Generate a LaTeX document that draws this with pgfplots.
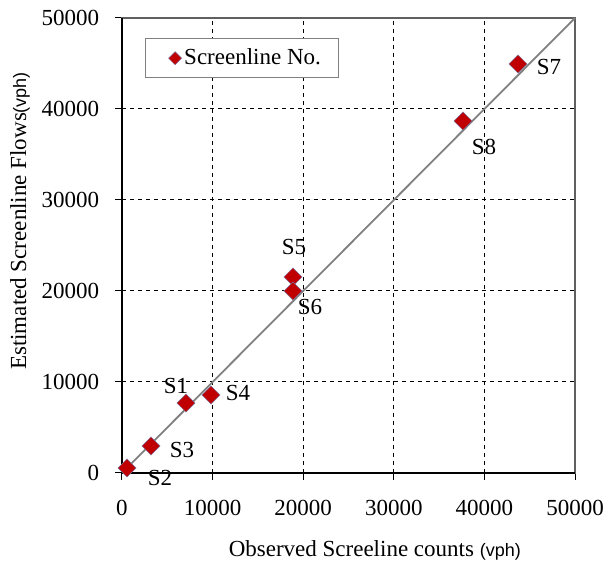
\documentclass[border=0pt]{standalone}
\usepackage{fontspec}
\setmainfont{Liberation Serif}
\setsansfont{Liberation Sans}
\usepackage{pgfplots}
\pgfplotsset{compat=1.18}
\usetikzlibrary{calc}
\definecolor{mkred}{HTML}{C00000}
\definecolor{mkedge}{HTML}{7F6E9A}
\begin{document}
\fontsize{23}{27}\selectfont
\begin{tikzpicture}
\begin{axis}[
  name=ax,
  scale only axis,
  width=453pt, height=455pt,
  xmin=0, xmax=50000, ymin=0, ymax=50000,
  xtick={0,10000,...,50000}, ytick={0,10000,...,50000},
  scaled ticks=false,
  /pgf/number format/1000 sep={},
  /pgf/number format/assume math mode=true,
  ticklabel style={font=\fontsize{23}{27}\selectfont},
  xticklabel style={yshift=-12pt},
  yticklabel style={xshift=-8pt},
  tick align=outside,
  xtick pos=left, ytick pos=left,
  major tick length=7pt,
  tick style={black, line width=1pt},
  grid=major,
  major grid style={black, dashed, line width=1pt, dash pattern=on 4pt off 4pt},
  axis line style={gray!75!black, line width=1.2pt},
  xlabel={Observed Screeline counts {\sffamily\fontsize{18}{21}\selectfont(vph)}},
  ylabel={Estimated Screenline Flows{\sffamily\fontsize{18}{21}\selectfont(vph)}},
  xlabel style={at={(axis description cs:0.558,0)}, anchor=center, yshift=-77pt, font=\fontsize{23}{27}\selectfont},
  ylabel style={at={(axis description cs:0,0.554)}, anchor=center, yshift=102pt, font=\fontsize{23}{27}\selectfont},
  legend style={at={(axis description cs:0.0508,0.956)}, anchor=north west,
    draw=gray, line width=1pt, fill=white, inner xsep=4pt, inner ysep=8pt,
    font=\fontsize{23}{27}\selectfont},
  legend image code/.code={
    \path[draw=none, fill=none] (0,0) -- (1.15cm,0);
    \path[draw=none, fill=none] plot[only marks, mark=square*, mark size=4.6pt, mark options={rotate=45, fill=mkred, draw=mkedge, line width=0.5pt}]
      coordinates {(0.9cm,0cm)};
  },
  legend cell align=left,
  clip=false,
]
\addplot[gray, line width=1.8pt, forget plot] coordinates {(0,0) (50000,50000)};
\addplot[only marks, mark=square*, mark size=6.4pt,
  mark options={rotate=45, fill=mkred, draw=mkedge, line width=0.5pt}]
  coordinates {
  (7060,7690)
  (550,550)
  (3200,2970)
  (9820,8570)
  (18870,21540)
  (18870,20000)
  (43710,44950)
  (37640,38680)
};
\addlegendentry{\makebox[148pt][l]{Screenline No.}}
\draw[black, line width=1.2pt] (rel axis cs:0,1) -- (rel axis cs:0,0) -- (rel axis cs:1,0);
\node at (axis cs:5960,9560) {S1};
\node at (axis cs:4190,-550) {S2};
\node at (axis cs:6620,2530) {S3};
\node at (axis cs:12800,8790) {S4};
\node at (axis cs:18990,24840) {S5};
\node at (axis cs:20750,18240) {S6};
\node at (axis cs:47130,44620) {S7};
\node at (axis cs:39960,35820) {S8};
\end{axis}
\pgfresetboundingbox
\useasboundingbox ($(ax.south west)+(-122pt,-92pt)$) rectangle ($(ax.north east)+(41pt,18pt)$);
\end{tikzpicture}
\end{document}
